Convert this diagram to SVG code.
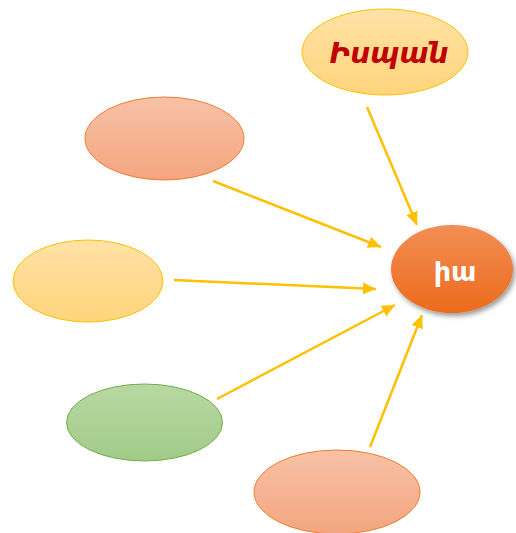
<svg xmlns="http://www.w3.org/2000/svg" width="516" height="533" viewBox="0 0 516 533">
<defs>
<linearGradient id="gS" x1="0" y1="0" x2="0" y2="1"><stop offset="0" stop-color="#F7C2A6"/><stop offset="1" stop-color="#F4A580"/></linearGradient>
<linearGradient id="gY" x1="0" y1="0" x2="0" y2="1"><stop offset="0" stop-color="#FFE2A6"/><stop offset="1" stop-color="#FFD47C"/></linearGradient>
<linearGradient id="gG" x1="0" y1="0" x2="0" y2="1"><stop offset="0" stop-color="#B8D8A4"/><stop offset="1" stop-color="#A2CB87"/></linearGradient>
<linearGradient id="gO" x1="0" y1="0" x2="0" y2="1"><stop offset="0" stop-color="#F28E55"/><stop offset="1" stop-color="#EC6B1C"/></linearGradient>
<filter id="sh" x="-20%" y="-20%" width="150%" height="150%"><feDropShadow dx="2" dy="3" stdDeviation="2.5" flood-color="#000" flood-opacity="0.4"/></filter>
<marker id="ah" markerWidth="14" markerHeight="14" refX="13" refY="6" orient="auto" markerUnits="userSpaceOnUse" viewBox="0 0 14 12"><path d="M0,0 L13,6 L0,12 z" fill="#FFC000"/></marker>
<style>
.c{stroke:#FFC000;stroke-width:2.5;fill:none;marker-end:url(#ah)}
.s{fill:url(#gS);stroke:#ED7D31;stroke-width:1}
.y{fill:url(#gY);stroke:#FFC000;stroke-width:1}
.g{fill:url(#gG);stroke:#70AD47;stroke-width:1}
</style>
</defs>
<g id="connectors">
<line class="c" x1="367" y1="107" x2="417" y2="225"/>
<line class="c" x1="213" y1="181" x2="381" y2="247"/>
<line class="c" x1="174" y1="280" x2="376" y2="289"/>
<line class="c" x1="217" y1="399" x2="395" y2="305"/>
<line class="c" x1="370" y1="447" x2="422" y2="315"/>
</g>
<g id="n-ispan"><ellipse class="y" cx="385" cy="52" rx="83" ry="43"/><text x="389" y="63" text-anchor="middle" font-family="'DejaVu Sans', 'Noto Sans', sans-serif" font-weight="bold" font-style="italic" font-size="28" fill="#C00000">Իսպան</text></g>
<g id="n1"><ellipse class="s" cx="164.5" cy="138.5" rx="79.5" ry="41.5"/></g>
<g id="n2"><ellipse class="y" cx="88" cy="281" rx="75" ry="41"/></g>
<g id="n3"><ellipse class="g" cx="144.5" cy="422.5" rx="78" ry="38.5"/></g>
<g id="n4"><ellipse class="s" cx="337" cy="492" rx="83" ry="42"/></g>
<g id="n-center"><ellipse cx="452" cy="269" rx="61" ry="44" fill="url(#gO)" filter="url(#sh)"/><text x="455" y="281" text-anchor="middle" font-family="'DejaVu Sans', 'Noto Sans', sans-serif" font-weight="bold" font-size="27" fill="#FFFFFF">իա</text></g>
</svg>
